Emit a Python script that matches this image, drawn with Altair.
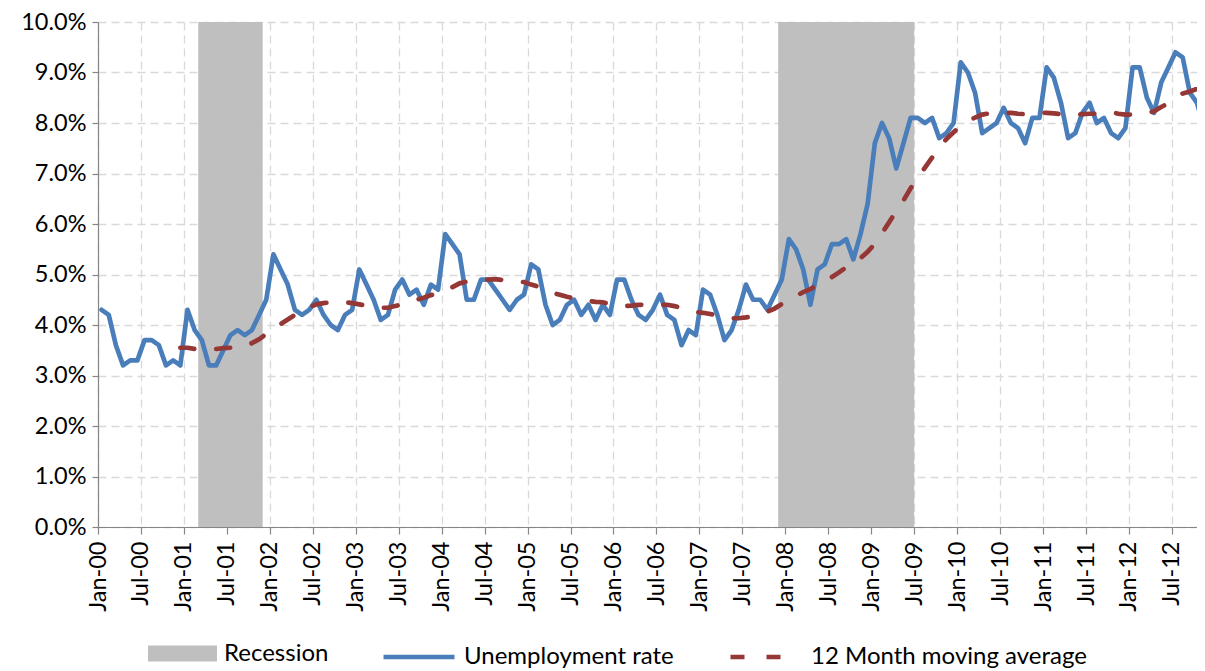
import json
import altair as alt
import pandas as pd

# Monthly unemployment rate (%), Jan-00 .. Nov-12
rate = [
    4.3, 4.2, 3.6, 3.2, 3.3, 3.3, 3.7, 3.7, 3.6, 3.2, 3.3, 3.2,   # 2000
    4.3, 3.9, 3.7, 3.2, 3.2, 3.5, 3.8, 3.9, 3.8, 3.9, 4.2, 4.5,   # 2001
    5.4, 5.1, 4.8, 4.3, 4.2, 4.3, 4.5, 4.2, 4.0, 3.9, 4.2, 4.3,   # 2002
    5.1, 4.8, 4.5, 4.1, 4.2, 4.7, 4.9, 4.6, 4.7, 4.4, 4.8, 4.7,   # 2003
    5.8, 5.6, 5.4, 4.5, 4.5, 4.9, 4.9, 4.7, 4.5, 4.3, 4.5, 4.6,   # 2004
    5.2, 5.1, 4.4, 4.0, 4.1, 4.4, 4.5, 4.2, 4.4, 4.1, 4.4, 4.2,   # 2005
    4.9, 4.9, 4.5, 4.2, 4.1, 4.3, 4.6, 4.2, 4.1, 3.6, 3.9, 3.8,   # 2006
    4.7, 4.6, 4.2, 3.7, 3.9, 4.3, 4.8, 4.5, 4.5, 4.3, 4.6, 4.9,   # 2007
    5.7, 5.5, 5.1, 4.4, 5.1, 5.2, 5.6, 5.6, 5.7, 5.3, 5.8, 6.4,   # 2008
    7.6, 8.0, 7.7, 7.1, 7.6, 8.1, 8.1, 8.0, 8.1, 7.7, 7.8, 8.0,   # 2009
    9.2, 9.0, 8.6, 7.8, 7.9, 8.0, 8.3, 8.0, 7.9, 7.6, 8.1, 8.1,   # 2010
    9.1, 8.9, 8.4, 7.7, 7.8, 8.2, 8.4, 8.0, 8.1, 7.8, 7.7, 7.9,   # 2011
    9.1, 9.1, 8.5, 8.2, 8.8, 9.1, 9.4, 9.3, 8.6, 8.4, 7.9,        # 2012
]
month_index = list(range(len(rate)))          # 0 = Jan-00

# Recessions as month indices (first month, month after last)
rec_names = ["Recession", "Recession"]
rec_start = [14, 95]     # Mar-01, Dec-07
rec_end = [23, 114]      # through Nov-01, through Jun-09

tick_labels = [
    "Jan-00", "Jul-00", "Jan-01", "Jul-01", "Jan-02", "Jul-02", "Jan-03", "Jul-03",
    "Jan-04", "Jul-04", "Jan-05", "Jul-05", "Jan-06", "Jul-06", "Jan-07", "Jul-07",
    "Jan-08", "Jul-08", "Jan-09", "Jul-09", "Jan-10", "Jul-10", "Jan-11", "Jul-11",
    "Jan-12", "Jul-12",
]
tick_values = [6 * k for k in range(len(tick_labels))]
y_ticks = list(range(0, 11))

series_name = "Unemployment rate"
ma_name = "12 Month moving average"

df = pd.DataFrame({"i": month_index, "rate": rate})
df["pos"] = df["i"] + 0.5
df["name"] = series_name
df["ma_name"] = ma_name
rec_df = pd.DataFrame({"name": rec_names, "start": rec_start, "end": rec_end})

FONT = "Lato"
FS = 23.5
W, H = 1099, 505
X_MAX = 153.5

xscale = alt.Scale(domain=[0, X_MAX], nice=False, zero=False)
yscale = alt.Scale(domain=[0, 10], nice=False)

xaxis = alt.Axis(
    values=tick_values,
    labelExpr=f"{json.dumps(tick_labels)}[round(datum.value / 6)]",
    labelAngle=-90, title=None, grid=True, gridDash=[8, 5], gridColor="#D9D9D9",
    gridWidth=1.3, tickSize=7, labelPadding=7, zindex=0,
)
yaxis = alt.Axis(
    values=y_ticks,
    labelExpr="format(datum.value, '.1f') + '%'",
    title=None, grid=True, gridDash=[8, 5], gridColor="#D9D9D9", gridWidth=1.3,
    tickSize=6, labelPadding=6, zindex=0,
)

LEG_Y = 597
common_leg = dict(orient="none", title=None, labelFont=FONT, labelFontSize=24,
                  labelColor="#000000", labelOffset=7, padding=0, legendY=LEG_Y,
                  labelLimit=0)

rec = alt.Chart(rec_df).mark_rect(color="#BFBFBF").encode(
    x=alt.X("start:Q", scale=xscale, axis=xaxis),
    x2="end:Q",
    y=alt.Y(datum=0, scale=yscale, axis=yaxis),
    y2=alt.datum(10),
    color=alt.Color("name:N",
                    scale=alt.Scale(domain=["Recession"], range=["#BFBFBF"]),
                    legend=alt.Legend(symbolType="M-1,-0.23H1V0.23H-1Z", symbolSize=4761,
                                      symbolStrokeWidth=0, legendX=50, **common_leg)),
)

line = alt.Chart(df).mark_line(strokeWidth=4.7, strokeJoin="round", strokeCap="round",
                               clip=True).encode(
    x=alt.X("pos:Q", scale=xscale, axis=xaxis),
    y=alt.Y("rate:Q", scale=yscale, axis=yaxis),
    color=alt.Color("name:N",
                    scale=alt.Scale(domain=[series_name], range=["#4A7EBB"]),
                    legend=alt.Legend(symbolType="stroke", symbolSize=5041,
                                      symbolStrokeWidth=4.7, legendX=283, **common_leg)),
)

ma = alt.Chart(df).transform_window(
    ma="mean(rate)", n="count()", frame=[-11, 0], sort=[alt.SortField("i")]
).transform_filter("datum.n >= 12").mark_line(
    strokeWidth=4.7, strokeDash=[14, 22], strokeCap="round", clip=True
).encode(
    x=alt.X("pos:Q", scale=xscale, axis=xaxis),
    y=alt.Y("ma:Q", scale=yscale, axis=yaxis),
    color=alt.Color("ma_name:N",
                    scale=alt.Scale(domain=[ma_name], range=["#953735"]),
                    legend=alt.Legend(symbolType="stroke", symbolSize=5041,
                                      symbolStrokeWidth=4.7, symbolDash=[14, 22],
                                      legendX=630, **common_leg)),
)

chart = alt.layer(rec, line, ma).resolve_scale(color="independent").properties(
    width=W, height=H,
    autosize=alt.AutoSizeParams(type="none"),
    padding={"left": 90, "top": 14, "right": 0, "bottom": 147},
).configure_view(stroke=None).configure_axis(
    labelFont=FONT, labelFontSize=FS, labelColor="#000000",
    domainColor="#868686", tickColor="#868686", domainWidth=1.2, tickWidth=1.2,
)

chart.save("out.html", embed_options={"renderer": "svg", "actions": False})
